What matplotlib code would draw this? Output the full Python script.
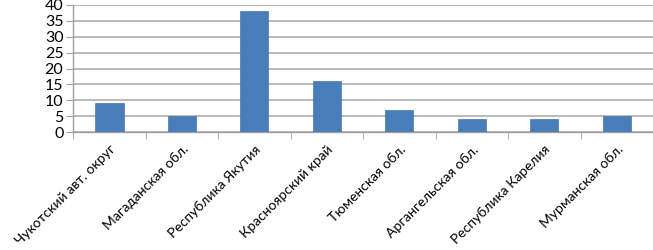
import matplotlib
matplotlib.use('Agg')
import matplotlib.pyplot as plt
import numpy as np

regions = ['Чукотский авт. округ', 'Магаданская обл.', 'Республика Якутия',
           'Красноярский край', 'Тюменская обл.', 'Аргангельская обл.',
           'Республика Карелия', 'Мурманская обл.']
values = [9, 5, 38, 16, 7, 4, 4, 5]
y_ticks = [0, 5, 10, 15, 20, 25, 30, 35, 40]

plt.rcParams['font.family'] = ['Lato', 'DejaVu Sans']

fig = plt.figure(figsize=(6.53, 2.5), dpi=100)
ax = fig.add_axes([0.112, 0.472, 0.888, 0.508])

x = np.arange(len(regions))
ax.bar(x, values, width=0.39, color='#4a7ebb', edgecolor='#4677b0', linewidth=0.5, zorder=3)

ax.set_xlim(-0.5, len(regions) - 0.5)
ax.set_ylim(0, 40)
ax.set_yticks(y_ticks)
ax.yaxis.grid(True, color='#b4b4b4', linewidth=1.3, zorder=0)
ax.tick_params(axis='y', labelsize=11.5, length=5, color='#a0a0a0', pad=2)

ax.set_xticks(x)
ax.set_xticklabels(regions, rotation=45, ha='right', va='top', rotation_mode='anchor', fontsize=10)
ax.tick_params(axis='x', length=0, pad=8)
ax.set_xticks(np.arange(len(regions) + 1) - 0.5, minor=True)
ax.tick_params(axis='x', which='minor', length=5, color='#a0a0a0')

for side in ['top', 'right']:
    ax.spines[side].set_visible(False)
for side in ['left', 'bottom']:
    ax.spines[side].set_color('#a0a0a0')
    ax.spines[side].set_linewidth(1)

fig.savefig('out.png', dpi=100)
